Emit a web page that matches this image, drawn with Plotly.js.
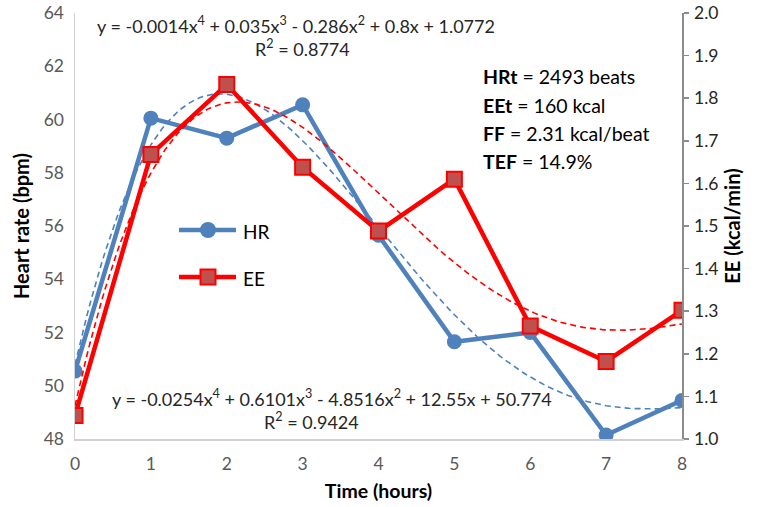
<!DOCTYPE html>
<html>
<head>
<meta charset="utf-8">
<script src="https://cdn.plot.ly/plotly-3.0.1.min.js"></script>
<style>html,body{margin:0;padding:0;background:#fff;}#chart{width:759px;height:507px;}</style>
</head>
<body>
<div id="chart"></div>
<script>
// ---- data ----
var hours = [0, 1, 2, 3, 4, 5, 6, 7, 8];
var heartRate = [50.55, 60.05, 59.3, 60.55, 55.65, 51.65, 52.0, 48.15, 49.45];
var energyExp = [1.055, 1.668, 1.832, 1.638, 1.488, 1.61, 1.265, 1.182, 1.302];
var xTickLabels = ['0', '1', '2', '3', '4', '5', '6', '7', '8'];
var seriesNames = ['HR', 'EE'];
var hrEquation = 'y = -0.0254x<sup>4</sup> + 0.6101x<sup>3</sup> - 4.8516x<sup>2</sup> + 12.55x + 50.774';
var hrR2 = 'R<sup>2</sup> = 0.9424';
var eeEquation = 'y = -0.0014x<sup>4</sup> + 0.035x<sup>3</sup> - 0.286x<sup>2</sup> + 0.8x + 1.0772';
var eeR2 = 'R<sup>2</sup> = 0.8774';
var statLabels = ['HRt', 'EEt', 'FF', 'TEF'];
var statValues = ['= 2493 beats', '= 160 kcal', '= 2.31 kcal/beat', '= 14.9%'];

// ---- 4th order polynomial least-squares trendline (as Excel does) ----
function polyFit(xs, ys, deg) {
  var n = deg + 1, A = [], b = [];
  for (var i = 0; i < n; i++) {
    A.push([]); b.push(0);
    for (var j = 0; j < n; j++) {
      var s = 0; for (var k = 0; k < xs.length; k++) s += Math.pow(xs[k], i + j);
      A[i].push(s);
    }
    for (var k = 0; k < xs.length; k++) b[i] += ys[k] * Math.pow(xs[k], i);
  }
  for (var c = 0; c < n; c++) {
    var p = c;
    for (var r = c + 1; r < n; r++) if (Math.abs(A[r][c]) > Math.abs(A[p][c])) p = r;
    var t = A[c]; A[c] = A[p]; A[p] = t; var tb = b[c]; b[c] = b[p]; b[p] = tb;
    for (var r = c + 1; r < n; r++) {
      var f = A[r][c] / A[c][c];
      for (var j = c; j < n; j++) A[r][j] -= f * A[c][j];
      b[r] -= f * b[c];
    }
  }
  var coef = new Array(n);
  for (var i = n - 1; i >= 0; i--) {
    var s = b[i]; for (var j = i + 1; j < n; j++) s -= A[i][j] * coef[j];
    coef[i] = s / A[i][i];
  }
  return coef;
}
function trend(xs, ys) {
  var c = polyFit(xs, ys, 4), tx = [], ty = [];
  var x0 = xs[0], x1 = xs[xs.length - 1];
  for (var i = 0; i <= 160; i++) {
    var x = x0 + (x1 - x0) * i / 160, y = 0;
    for (var j = 0; j < c.length; j++) y += c[j] * Math.pow(x, j);
    tx.push(x); ty.push(y);
  }
  return {x: tx, y: ty};
}
var hrTrend = trend(hours, heartRate);
var eeTrend = trend(hours, energyExp);

var BLUE = '#4F81BD', RED = '#FF0000', SQ = '#C0504D';
var FONT = 'Lato, "Liberation Sans", sans-serif';

var traces = [
  {x: hrTrend.x, y: hrTrend.y, type: 'scatter', mode: 'lines', showlegend: false, hoverinfo: 'skip',
   line: {color: BLUE, width: 1.6, dash: '6px,4px'}, yaxis: 'y'},
  {x: hours, y: heartRate, type: 'scatter', mode: 'lines+markers', name: seriesNames[0], showlegend: false,
   line: {color: BLUE, width: 4.5}, marker: {symbol: 'circle', size: 15, color: BLUE}, yaxis: 'y'},
  {x: eeTrend.x, y: eeTrend.y, type: 'scatter', mode: 'lines', showlegend: false, hoverinfo: 'skip',
   line: {color: RED, width: 1.6, dash: '6px,4px'}, yaxis: 'y2'},
  {x: hours, y: energyExp, type: 'scatter', mode: 'lines+markers', name: seriesNames[1], showlegend: false,
   line: {color: RED, width: 4.5}, marker: {symbol: 'square', size: 15, color: SQ, line: {color: RED, width: 2}}, yaxis: 'y2'}
];

// pixel helpers for decorations (plot area: x 75..682, y 13..439)
var L = 75, R = 682, T = 13, B = 439;
function px(x) { return (x - L) / (R - L); }
function py(y) { return (B - y) / (B - T); }

var annotations = [
  {text: eeEquation, x: 95, y: 25},
  {text: eeR2, x: 253, y: 48},
  {text: hrEquation, x: 110, y: 398},
  {text: hrR2, x: 262, y: 421}
].map(function (a) {
  return {text: a.text, xref: 'paper', yref: 'paper', x: px(a.x), y: py(a.y),
    xanchor: 'left', yanchor: 'middle', showarrow: false, font: {family: FONT, size: 18, color: '#262626'}};
});
for (var i = 0; i < statLabels.length; i++) {
  annotations.push({text: '<b>' + statLabels[i] + '</b> ' + statValues[i], xref: 'paper', yref: 'paper',
    x: px(481), y: py(77 + 28 * i), xanchor: 'left', yanchor: 'middle', showarrow: false,
    font: {family: FONT, size: 19.5, color: '#000'}});
}
// legend (drawn as decorations)
var legY = [230, 277];
var shapes = [];
for (var i = 0; i < 2; i++) {
  var col = i === 0 ? BLUE : RED;
  shapes.push({type: 'line', xref: 'paper', yref: 'paper', x0: px(179), x1: px(236), y0: py(legY[i]), y1: py(legY[i]),
    line: {color: col, width: 4.5}});
  annotations.push({text: seriesNames[i], xref: 'paper', yref: 'paper', x: px(241), y: py(legY[i] + 1),
    xanchor: 'left', yanchor: 'middle', showarrow: false, font: {family: FONT, size: 19, color: '#000'}});
}
shapes.push({type: 'circle', xref: 'paper', yref: 'paper', x0: px(200), x1: px(216), y0: py(legY[0] - 8), y1: py(legY[0] + 8),
  fillcolor: BLUE, line: {color: BLUE, width: 0}});
shapes.push({type: 'rect', xref: 'paper', yref: 'paper', x0: px(200.5), x1: px(215.5), y0: py(legY[1] - 7.5), y1: py(legY[1] + 7.5),
  fillcolor: SQ, line: {color: RED, width: 2}});

var layout = {
  width: 759, height: 507,
  margin: {l: L, r: 759 - R, t: T, b: 507 - B},
  paper_bgcolor: '#fff', plot_bgcolor: '#fff',
  font: {family: FONT, color: '#595959', size: 17.5},
  showlegend: false,
  xaxis: {range: [0, 8], tickvals: hours, ticktext: xTickLabels, showgrid: false, zeroline: false,
    showline: true, linecolor: '#D0D0D0', linewidth: 1.5, ticks: '', ticklabelstandoff: 8,
    title: {text: '<b>Time (hours)</b>', font: {family: FONT, size: 19.5, color: '#000'}, standoff: 12}},
  yaxis: {range: [48, 64], dtick: 2, showgrid: false, zeroline: false, showline: true, linecolor: '#D0D0D0',
    linewidth: 1.5, ticks: '', ticklabelstandoff: 6,
    title: {text: '<b>Heart rate (bpm)</b>', font: {family: FONT, size: 20, color: '#000'}, standoff: 8}},
  yaxis2: {range: [1.0, 2.0], dtick: 0.1, tickformat: '.1f', overlaying: 'y', side: 'right', showgrid: false,
    zeroline: false, showline: true, linecolor: '#8C8C8C', linewidth: 1.5, ticks: 'outside', ticklen: 5,
    tickcolor: '#8C8C8C', tickwidth: 1.5, tickfont: {color: '#262626', size: 17.5}, ticklabelstandoff: 2,
    title: {text: '<b>EE (kcal/min)</b>', font: {family: FONT, size: 20, color: '#000'}, standoff: 8}},
  shapes: shapes,
  annotations: annotations
};

Plotly.newPlot('chart', traces, layout, {displayModeBar: false, staticPlot: true});
</script>
</body>
</html>
